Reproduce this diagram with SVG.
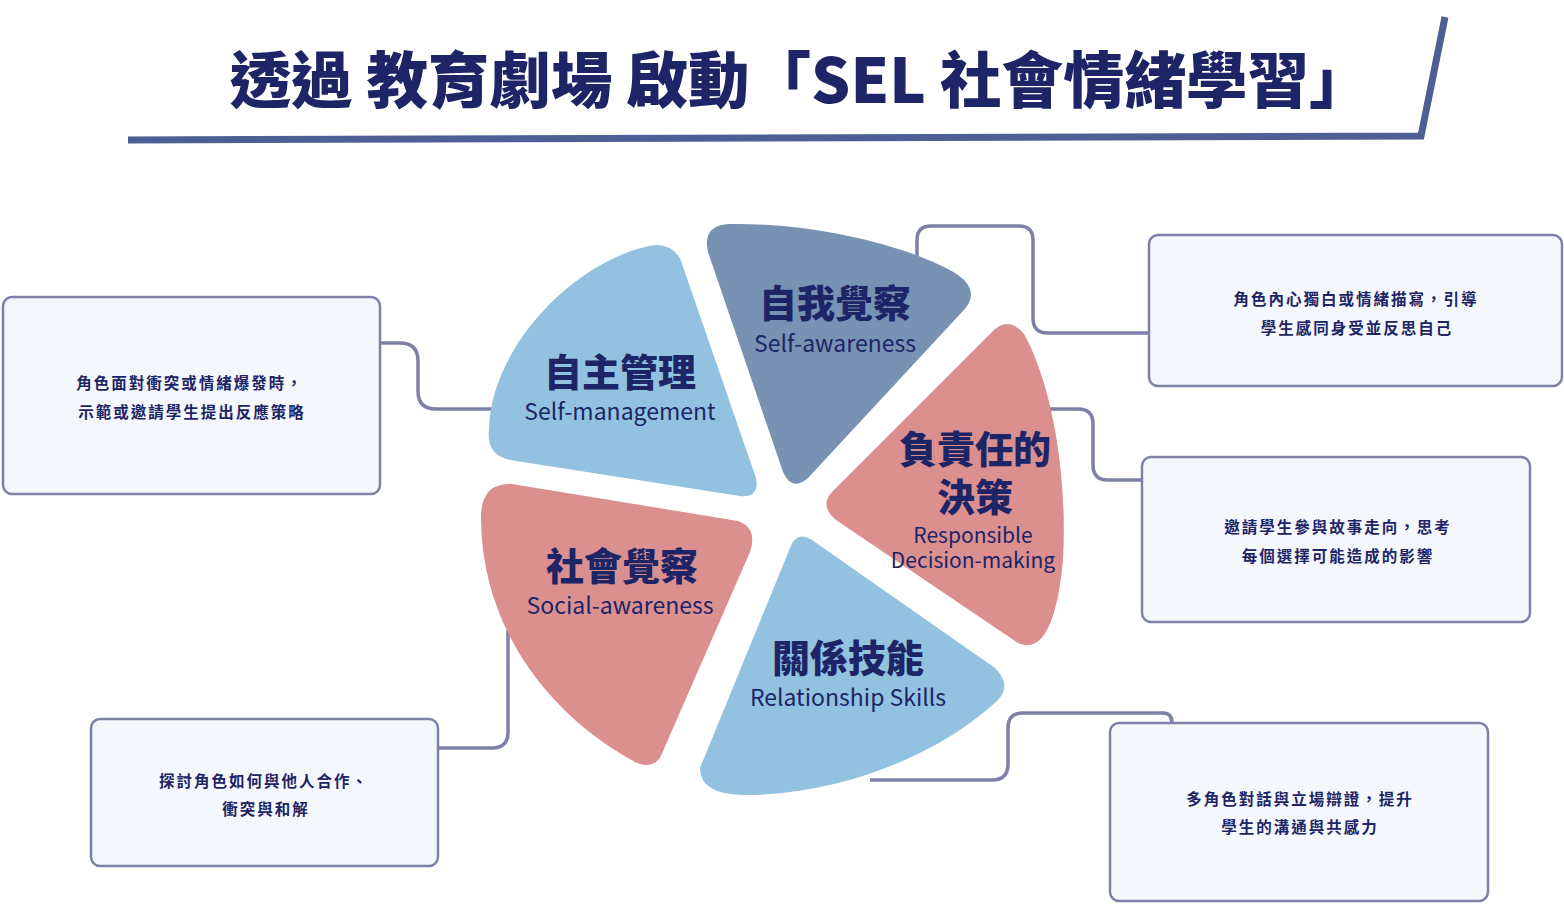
<svg xmlns="http://www.w3.org/2000/svg" width="1564" height="904" viewBox="0 0 1564 904">
<style>
.cn{font-family:"Noto Sans CJK TC","Noto Sans CJK SC",sans-serif;fill:#1d2566}
.title{font-size:61.5px;font-weight:900}
.pl{font-size:38px;font-weight:900;text-anchor:middle}
.en{font-size:23px;font-weight:400;text-anchor:middle}
.ens{font-size:21px;font-weight:400;text-anchor:middle}
.bt{font-size:15.5px;font-weight:700;text-anchor:middle;letter-spacing:2px}
.box{fill:#f4f7fb;stroke:#7e80a8;stroke-width:2.5}
.con{fill:none;stroke:#7e80a8;stroke-width:3.5}
.lb{fill:#92c2e0}.sl{fill:#7792b3}.pk{fill:#dc8f8f}
</style>
<rect width="1564" height="904" fill="#ffffff"/>
<g id="title">
<polyline points="128,140 1421,136 1445,17" fill="none" stroke="#4d5f94" stroke-width="7"/>
<text class="cn title" x="800" y="103" text-anchor="middle">透過 教育劇場 啟動「SEL 社會情緒學習」</text>
</g>
<g id="connectors">
<path class="con" d="M380,343 H400 Q418,343 418,361 V391 Q418,409 436,409 H495"/>
<path class="con" d="M917,262 V240 Q917,226 931,226 H1019 Q1033,226 1033,240 V318 Q1033,333 1048,333 H1150"/>
<path class="con" d="M1040,409 H1078 Q1093,409 1093,424 V465 Q1093,480 1108,480 H1142"/>
<path class="con" d="M438,748 H492 Q508,748 508,732 V630"/>
<path class="con" d="M870,780 H992 Q1008,780 1008,764 V728 Q1008,713 1023,713 H1163 Q1172,713 1172,723"/>
</g>
<g id="self-management">
<path class="lb" d="M680,258 L756,478 Q760,498 740,496 L510,460 Q486,455 489,430 C490,350 570,265 645,247 Q668,240 680,258 Z"/>
<text class="cn pl" x="620" y="386">自主管理</text>
<text class="cn en" x="620" y="420">Self-management</text>
</g>
<g id="self-awareness">
<path class="sl" d="M708,252 Q702,226 728,224 C820,222 920,250 958,275 Q982,292 962,312 L808,478 Q792,492 783,472 Z"/>
<text class="cn pl" x="835" y="317">自我覺察</text>
<text class="cn en" x="835" y="352">Self-awareness</text>
</g>
<g id="responsible-decision-making">
<path class="pk" d="M992,332 Q1008,315 1024,334 C1050,380 1068,470 1063,560 C1058,615 1045,655 1018,643 L836,520 Q818,505 834,490 Z"/>
<text class="cn pl" x="975" y="463">負責任的</text>
<text class="cn pl" x="975" y="511">決策</text>
<text class="cn ens" x="973" y="543">Responsible</text>
<text class="cn ens" x="973" y="568">Decision-making</text>
</g>
<g id="social-awareness">
<path class="pk" d="M481,520 Q480,482 512,484 L738,521 Q758,528 750,552 L660,758 Q650,770 635,762 C540,710 482,620 481,520 Z"/>
<text class="cn pl" x="622" y="580">社會覺察</text>
<text class="cn en" x="620" y="614">Social-awareness</text>
</g>
<g id="relationship-skills">
<path class="lb" d="M790,548 Q796,530 812,540 L995,668 Q1012,685 998,700 C940,755 840,795 745,795 Q700,795 700,768 Z"/>
<text class="cn pl" x="848" y="672">關係技能</text>
<text class="cn en" x="848" y="706">Relationship Skills</text>
</g>
<g id="box-self-management">
<rect class="box" x="3" y="297" width="377" height="197" rx="9"/>
<text class="cn bt" x="190" y="389">角色面對衝突或情緒爆發時，</text>
<text class="cn bt" x="192" y="418">示範或邀請學生提出反應策略</text>
</g>
<g id="box-self-awareness">
<rect class="box" x="1149" y="235" width="413" height="151" rx="9"/>
<text class="cn bt" x="1356" y="305">角色內心獨白或情緒描寫，引導</text>
<text class="cn bt" x="1357" y="334">學生感同身受並反思自己</text>
</g>
<g id="box-responsible">
<rect class="box" x="1142" y="457" width="388" height="165" rx="9"/>
<text class="cn bt" x="1338" y="533">邀請學生參與故事走向，思考</text>
<text class="cn bt" x="1338" y="562">每個選擇可能造成的影響</text>
</g>
<g id="box-social-awareness">
<rect class="box" x="91" y="719" width="347" height="147" rx="9"/>
<text class="cn bt" x="264" y="787">探討角色如何與他人合作、</text>
<text class="cn bt" x="266" y="815">衝突與和解</text>
</g>
<g id="box-relationship">
<rect class="box" x="1110" y="723" width="378" height="178" rx="9"/>
<text class="cn bt" x="1300" y="805">多角色對話與立場辯證，提升</text>
<text class="cn bt" x="1300" y="833">學生的溝通與共感力</text>
</g>
</svg>
